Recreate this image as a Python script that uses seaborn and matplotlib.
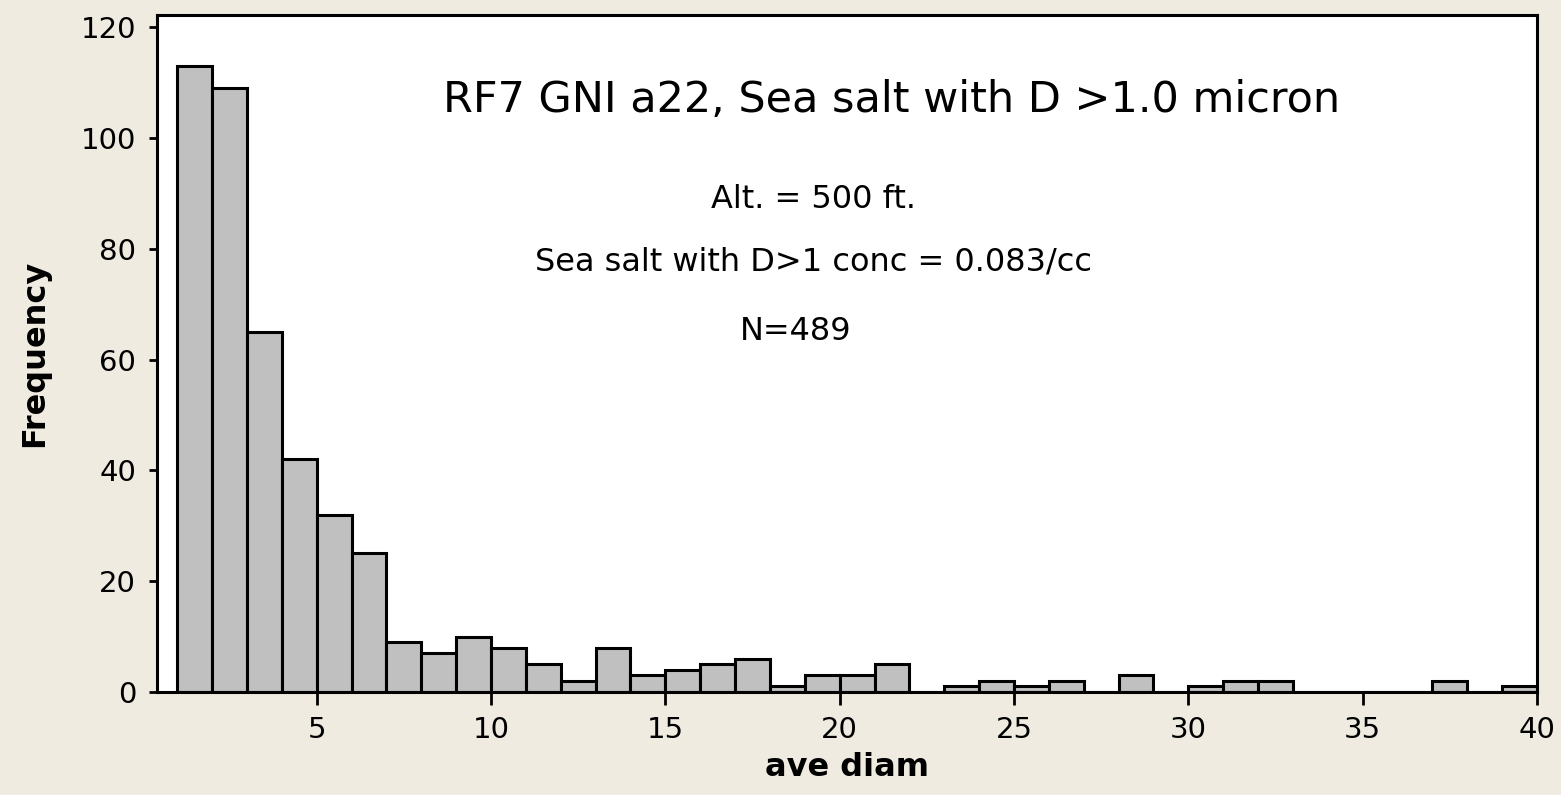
import numpy as np
import pandas as pd
import matplotlib
matplotlib.use('Agg')
import matplotlib.pyplot as plt
import seaborn as sns

# histogram counts, unit-width bins from 1 to 40
bin_edges = list(range(1, 41))
counts = [113, 109, 65, 42, 32, 25, 9, 7, 10, 8,
          5, 2, 8, 3, 4, 5, 6, 1, 3, 3,
          5, 0, 1, 2, 1, 2, 0, 3, 0, 1,
          2, 2, 0, 0, 0, 0, 2, 0, 1]
x_ticks = [5, 10, 15, 20, 25, 30, 35, 40]
y_ticks = [0, 20, 40, 60, 80, 100, 120]

title = "RF7 GNI a22, Sea salt with D >1.0 micron"
notes = ["Alt. = 500 ft.", "Sea salt with D>1 conc = 0.083/cc", "N=489"]

df = pd.DataFrame({
    'ave diam': [e + 0.5 for e in bin_edges[:-1]],
    'count': counts,
})

sns.set_style('white')
plt.rcParams['font.family'] = ['DejaVu Sans']
plt.rcParams.update({'text.color': 'black', 'axes.labelcolor': 'black',
                     'xtick.color': 'black', 'ytick.color': 'black'})

bg = '#EFEBE1'
fig = plt.figure(figsize=(15.61, 7.95), dpi=100, facecolor=bg)
ax = fig.add_axes([157 / 1561, 1 - 692 / 795, 1380 / 1561, 677 / 795])
ax.set_facecolor('white')

sns.histplot(data=df, x='ave diam', weights='count', bins=bin_edges,
             color='#C0C0C0', edgecolor='black', linewidth=2.2, alpha=1,
             ax=ax)

ax.set_xlim(0.42, 40)
ax.set_ylim(0, 122.2)
ax.set_xticks(x_ticks)
ax.set_yticks(y_ticks)
ax.tick_params(axis='x', direction='out', length=9, width=2, pad=8,
               labelsize=21, bottom=True)
ax.tick_params(axis='y', direction='out', length=6, width=2, pad=9,
               labelsize=21, left=True)
for s in ax.spines.values():
    s.set_color('black')
    s.set_linewidth(2.2)

ax.set_xlabel('ave diam', fontsize=23, fontweight='bold', labelpad=6)
ax.set_ylabel('Frequency', fontsize=23, fontweight='bold', labelpad=22)

ax.text(0.532, 0.874, title, transform=ax.transAxes, ha='center',
        va='center', fontsize=31)
note_y = [0.727, 0.635, 0.532]
note_x = [0.476, 0.476, 0.463]
for t, xx, yy in zip(notes, note_x, note_y):
    ax.text(xx, yy, t, transform=ax.transAxes, ha='center', va='center',
            fontsize=23)

fig.savefig('out.png', dpi=100, facecolor=bg)
